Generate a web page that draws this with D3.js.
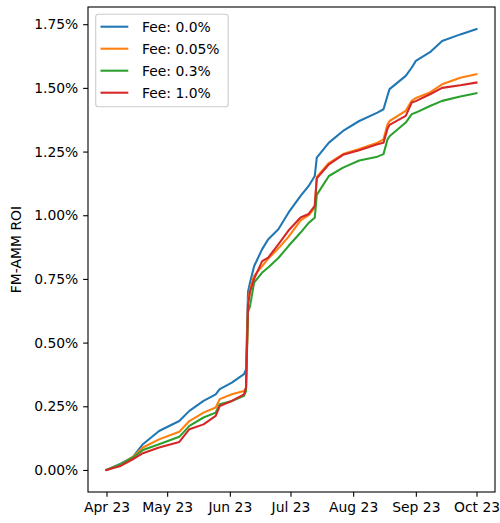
<!DOCTYPE html>
<html><head><meta charset="utf-8">
<script src="https://cdn.jsdelivr.net/npm/d3@7"></script>
<style>body{margin:0;background:#fff}svg{display:block}text{font-family:"DejaVu Sans",sans-serif}</style>
</head><body><svg id="c" width="500" height="523"></svg>
<script>
const dates = ["2023-04-01","2023-04-08","2023-04-14","2023-04-19","2023-04-27","2023-05-07","2023-05-12","2023-05-19","2023-05-25","2023-05-27","2023-06-02","2023-06-08","2023-06-09","2023-06-10","2023-06-11","2023-06-13","2023-06-17","2023-06-20","2023-06-25","2023-06-30","2023-07-06","2023-07-10","2023-07-13","2023-07-14","2023-07-20","2023-07-27","2023-08-04","2023-08-13","2023-08-16","2023-08-18","2023-08-19","2023-08-27","2023-08-30","2023-09-01","2023-09-08","2023-09-14","2023-09-23","2023-10-01"];
const fee0   = [0,0.025,0.050,0.101,0.153,0.192,0.232,0.271,0.297,0.317,0.343,0.376,0.395,0.700,0.736,0.800,0.867,0.906,0.945,1.010,1.076,1.115,1.154,1.226,1.285,1.331,1.370,1.403,1.416,1.470,1.495,1.547,1.580,1.606,1.640,1.684,1.710,1.731];
const fee005 = [0,0.022,0.051,0.088,0.120,0.150,0.192,0.225,0.245,0.278,0.297,0.310,0.323,0.660,0.709,0.762,0.800,0.830,0.870,0.915,0.980,1.000,1.030,1.150,1.205,1.240,1.260,1.285,1.298,1.357,1.370,1.410,1.450,1.460,1.482,1.514,1.540,1.554];
const fee03  = [0,0.022,0.049,0.078,0.101,0.130,0.173,0.206,0.225,0.258,0.271,0.291,0.310,0.620,0.644,0.736,0.775,0.795,0.832,0.879,0.932,0.970,0.990,1.080,1.154,1.187,1.215,1.230,1.240,1.298,1.310,1.364,1.397,1.403,1.429,1.449,1.466,1.479];
const fee1   = [0,0.016,0.042,0.066,0.088,0.110,0.160,0.179,0.212,0.251,0.271,0.297,0.323,0.650,0.700,0.750,0.820,0.834,0.886,0.940,0.991,1.005,1.037,1.145,1.200,1.237,1.255,1.279,1.285,1.340,1.355,1.390,1.443,1.448,1.475,1.500,1.510,1.521];
const seriesNames = ["Fee: 0.0%","Fee: 0.05%","Fee: 0.3%","Fee: 1.0%"];
const seriesColors = ["#1f77b4","#ff7f0e","#2ca02c","#d62728"];
const xTicks = ["2023-04-01","2023-05-01","2023-06-01","2023-07-01","2023-08-01","2023-09-01","2023-10-01"];
const yTicks = [0,0.25,0.5,0.75,1.0,1.25,1.5,1.75];

const W=500,H=523,m={l:88,r:5,t:7,b:31};
const parse=d3.utcParse("%Y-%m-%d");
const D=dates.map(parse);
const all=[fee0,fee005,fee03,fee1];
const xe=d3.extent(D), xp=(xe[1]-xe[0])*0.05;
const ymin=d3.min(all.flat()), ymax=d3.max(all.flat()), yp=(ymax-ymin)*0.05;
const x=d3.scaleUtc().domain([+xe[0]-xp,+xe[1]+xp]).range([m.l,W-m.r]);
const y=d3.scaleLinear().domain([ymin-yp,ymax+yp]).range([H-m.b,m.t]);
const svg=d3.select("#c");
const fs=13.9;

const line=d3.line().x((d,i)=>x(D[i])).y(d=>y(d));
all.forEach((s,k)=>{
  svg.append("path").attr("d",line(s)).attr("fill","none").attr("stroke",seriesColors[k])
    .attr("stroke-width",2.08).attr("stroke-linejoin","round").attr("stroke-linecap","square");
});

// axes
const xa=d3.axisBottom(x).tickValues(xTicks.map(parse)).tickFormat(d3.utcFormat("%b %y")).tickSize(4.86).tickPadding(4.86);
const gx=svg.append("g").attr("transform",`translate(0,${H-m.b})`).call(xa);
const ya=d3.axisLeft(y).tickValues(yTicks).tickFormat(d=>d.toFixed(2)+"%").tickSize(4.86).tickPadding(4.86);
const gy=svg.append("g").attr("transform",`translate(${m.l},0)`).call(ya);
[gx,gy].forEach(g=>{
  g.select(".domain").remove();
  g.selectAll(".tick line").attr("stroke","#000").attr("stroke-width",1.1);
  g.selectAll(".tick text").attr("fill","#000").attr("font-size",fs).attr("font-family","DejaVu Sans");
});
gx.selectAll(".tick text").attr("dy","0.74em");
svg.append("rect").attr("x",m.l).attr("y",m.t).attr("width",W-m.l-m.r).attr("height",H-m.t-m.b)
  .attr("fill","none").attr("stroke","#000").attr("stroke-width",1.1);

svg.append("text").attr("transform",`translate(21,${(m.t+H-m.b)/2}) rotate(-90)`)
  .attr("text-anchor","middle").attr("font-size",fs).attr("fill","#000").text("FM-AMM ROI");

// legend
const lg=svg.append("g");
lg.append("rect").attr("x",95.7).attr("y",14.3).attr("width",132.5).attr("height",92.4).attr("rx",2.8)
  .attr("fill","#fff").attr("fill-opacity",0.8).attr("stroke","#ccc").attr("stroke-width",1.1);
seriesNames.forEach((n,k)=>{
  const yy=26.7+k*22;
  lg.append("line").attr("x1",100.5).attr("x2",128.3).attr("y1",yy).attr("y2",yy)
    .attr("stroke",seriesColors[k]).attr("stroke-width",2.08);
  lg.append("text").attr("x",142).attr("y",yy).attr("dy","0.36em").attr("font-size",fs).attr("fill","#000").text(n);
});
</script></body></html>
